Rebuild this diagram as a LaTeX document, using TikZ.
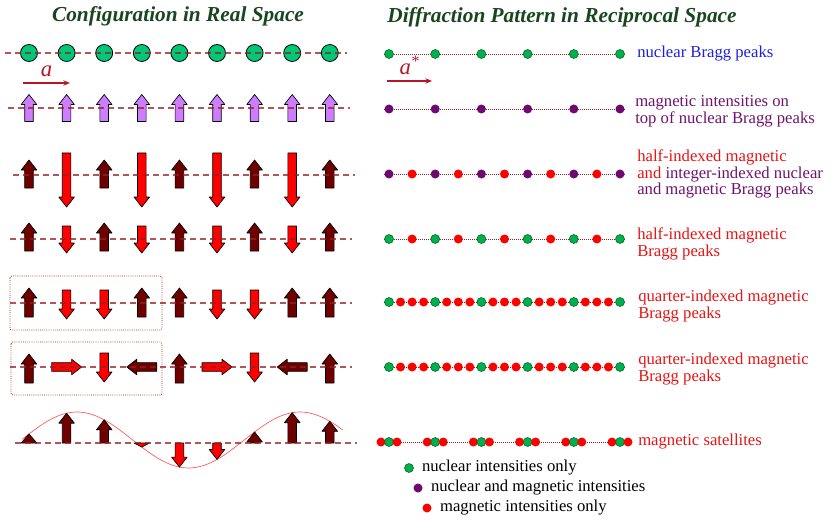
\documentclass[tikz,border=0pt]{standalone}
\usepackage{fontspec}
\setmainfont{Liberation Serif}
\usetikzlibrary{arrows.meta,positioning}

\definecolor{nucgreen}{RGB}{0,200,120}
\definecolor{dotgreen}{RGB}{0,175,85}
\definecolor{magpurple}{RGB}{110,10,110}
\definecolor{spinviolet}{RGB}{205,125,255}
\definecolor{spindark}{RGB}{110,0,0}
\definecolor{linered}{RGB}{150,30,30}
\definecolor{vecred}{RGB}{185,20,40}
\definecolor{titlegreen}{RGB}{25,70,30}
\definecolor{textblue}{RGB}{30,30,220}
\definecolor{textred}{RGB}{230,20,20}
\definecolor{textpurple}{RGB}{110,20,110}

% spin arrow: fill, x, y (tail), angle, length
\newcommand{\spin}[5]{%
  \pgfmathsetmacro{\hl}{min(10,#5)}%
  \pgfmathsetmacro{\bl}{#5-\hl}%
  \begin{scope}[shift={(#2,#3)},rotate=#4]
    \filldraw[fill=#1,draw=black,line width=0.5pt,line join=round]
      (0,-4.3) -- (\bl,-4.3) -- (\bl,-7.8) -- (#5,0) -- (\bl,7.8) -- (\bl,4.3) -- (0,4.3) -- cycle;
  \end{scope}}

\begin{document}
\begin{tikzpicture}[x=0.75pt,y=-0.75pt,
    heading/.style={font=\fontsize{16}{16}\selectfont\bfseries\itshape, text=titlegreen},
    peaktext/.style={anchor=west, align=left, inner sep=0pt, font=\fontsize{12.5}{12.5}\selectfont},
    atom/.style={circle, draw=black, line width=0.6pt, fill=nucgreen, minimum size=12.75pt, inner sep=0pt},
    peak/.style={circle, inner sep=0pt, minimum size=6.75pt},
    nuc/.style={peak, fill=dotgreen, draw=black!60!green, line width=0.4pt},
    mix/.style={peak, fill=magpurple},
    mag/.style={peak, fill=red},
    chainline/.style={draw=linered, line width=0.9pt, dash pattern=on 4.5pt off 3pt, opacity=0.75},
    peakline/.style={draw=linered, line width=0.5pt, densely dotted},
    cellbox/.style={draw=linered, line width=0.6pt, densely dotted, rounded corners=1.5pt},
    wave/.style={draw=red!65, line width=0.5pt},
    vec/.style={-{Stealth[length=5pt,width=4pt]}, draw=vecred, line width=0.8pt}
]
\useasboundingbox (0,0) rectangle (838,531);

% titles
\node[heading] (realtitle) at (178,16) {Configuration in Real Space};
\node[heading] (rectitle) at (562,17) {Diffraction Pattern in Reciprocal Space};

%% real space
% row 1: nuclear lattice
\foreach \i in {0,...,8}
  \node[atom] (n\i) at (29+37.6*\i,53) {};
\coordinate (a0) at (23,83);
\coordinate (a1) at (70,83);
\draw[vec] (a0) -- node[above=1pt, text=vecred, font=\fontsize{17}{17}\selectfont\itshape] (alabel) {a} (a1);

% row 2: ferromagnet
\foreach \i in {0,...,8}
  {\spin{spinviolet}{29+37.6*\i}{121.5}{90}{27}}

% row 3: ferrimagnet
\foreach \i in {0,2,4,6,8}
  {\spin{spindark}{29+37.6*\i}{188}{90}{28}}
\foreach \i in {1,3,5,7}
  {\spin{red}{29+37.6*\i}{153}{-90}{54}}

% row 4: antiferromagnet
\foreach \i in {0,2,4,6,8}
  {\spin{spindark}{29+37.6*\i}{251}{90}{28}}
\foreach \i in {1,3,5,7}
  {\spin{red}{29+37.6*\i}{226}{-90}{27}}

% row 5: up-down-down-up
\draw[cellbox] (10,276) rectangle (162,330);
\foreach \i in {0,3,4,7,8}
  {\spin{spindark}{29+37.6*\i}{317}{90}{29}}
\foreach \i in {1,2,5,6}
  {\spin{red}{29+37.6*\i}{290}{-90}{29}}

% row 6: rotating spins
\draw[cellbox] (11,342) rectangle (162,395);
\foreach \i in {0,4,8}
  {\spin{spindark}{29+37.6*\i}{383}{90}{29}}
\foreach \i in {2,6}
  {\spin{red}{29+37.6*\i}{353}{-90}{29}}
\foreach \i in {1,5}
  {\spin{red}{29+37.6*\i-15}{367}{0}{30}}
\foreach \i in {3,7}
  {\spin{spindark}{29+37.6*\i+15}{367}{180}{30}}

% row 7: modulated moments
\draw[wave] plot[domain=22:343, samples=90] (\x, {440-28*cos((\x-77)*1.6143)});
\foreach \i in {0,...,8} {
  \pgfmathsetmacro{\sx}{29+37.6*\i}
  \pgfmathsetmacro{\sl}{3+28*cos((\sx-77)*1.6143)}
  \pgfmathsetmacro{\sa}{abs(\sl)}
  \ifdim\sl pt>0pt
    \spin{spindark}{\sx}{443}{90}{\sa}
  \else
    \spin{red}{\sx}{443}{-90}{\sa}
  \fi
}

% chain lines
\foreach \r/\y/\xa/\xb in {1/53/5/347, 2/108/8/350, 3/175/13/355, 4/239/10/352,
                           5/303/10/352, 6/367/10/352, 7/443/15/357} {
  \coordinate (ls\r) at (\xa,\y);
  \coordinate (le\r) at (\xb,\y);
  \draw[chainline] (ls\r) -- (le\r);
}

%% reciprocal space
\foreach \r/\y in {1/54, 2/109, 3/174, 4/239, 5/302, 6/367} {
  \coordinate (ps\r) at (384,\y);
  \coordinate (pe\r) at (625,\y);
  \draw[peakline] (ps\r) -- (pe\r);
}
\coordinate (ps7) at (381,442);
\coordinate (pe7) at (627,442);
\draw[peakline] (ps7) -- (pe7);

\coordinate (b0) at (387,81);
\coordinate (b1) at (432,81);
\draw[vec] (b0) -- node[above=1pt, text=vecred, font=\fontsize{17}{17}\selectfont\itshape] (blabel) {a\textsuperscript{*}} (b1);

\foreach \j in {0,...,5} {
  \node[nuc] (p1\j) at (389+46.2*\j,54) {};
  \node[mix] (p2\j) at (389+46.2*\j,109) {};
}
\foreach \k in {0,...,10} {
  \ifodd\k
    \node[mag] (p3\k) at (389+23.1*\k,174) {};
    \node[mag] (p4\k) at (389+23.1*\k,239) {};
  \else
    \node[mix] (p3\k) at (389+23.1*\k,174) {};
    \node[nuc] (p4\k) at (389+23.1*\k,239) {};
  \fi
}
\foreach \k in {0,...,20} {
  \pgfmathtruncatemacro{\m}{mod(\k,4)}
  \ifnum\m=0
    \node[nuc] (p5\k) at (389+11.55*\k,302) {};
    \node[nuc] (p6\k) at (389+11.55*\k,367) {};
  \else
    \node[mag] (p5\k) at (389+11.55*\k,302) {};
    \node[mag] (p6\k) at (389+11.55*\k,367) {};
  \fi
}
\foreach \j in {0,...,5} {
  \node[mag] (s\j a) at (389+46.2*\j-8,442) {};
  \node[nuc] (s\j b) at (389+46.2*\j,442) {};
  \node[mag] (s\j c) at (389+46.2*\j+8,442) {};
}

% peak labels
\node[peaktext, text=textblue] (t1) at (637,54) {nuclear Bragg peaks};
\node[peaktext, text=textpurple] (t2) at (635,111.5) {magnetic intensities on\\top of nuclear Bragg peaks};
\node[peaktext, text=textpurple] (t3) at (637,174) {\textcolor{textred}{half-indexed magnetic}\\\textcolor{textred}{and} integer-indexed nuclear\\and magnetic Bragg peaks};
\node[peaktext, text=textred] (t4) at (637,244) {half-indexed magnetic\\Bragg peaks};
\node[peaktext, text=textred] (t5) at (638,306) {quarter-indexed magnetic\\Bragg peaks};
\node[peaktext, text=textred] (t6) at (638,369) {quarter-indexed magnetic\\Bragg peaks};
\node[peaktext, text=textred] (t7) at (638,442) {magnetic satellites};

% legend
\node[nuc] (k1) at (409,468) {};
\node[mix] (k2) at (418,488) {};
\node[mag] (k3) at (427,508) {};
\node[peaktext, right=6pt of k1] (k1text) {nuclear intensities only};
\node[peaktext, right=6pt of k2] (k2text) {nuclear and magnetic intensities};
\node[peaktext, right=6pt of k3] (k3text) {magnetic intensities only};
\end{tikzpicture}
\end{document}
